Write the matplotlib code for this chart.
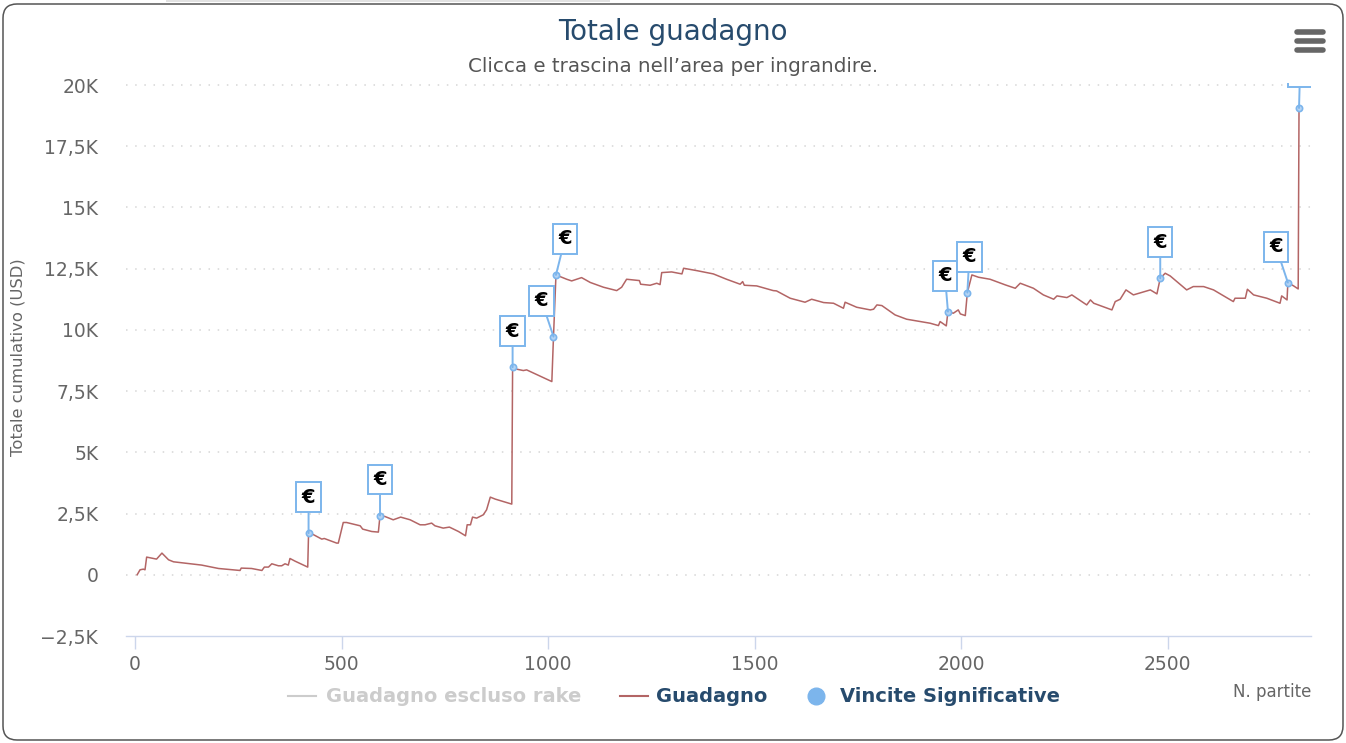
import matplotlib
matplotlib.use('Agg')
import matplotlib.pyplot as plt
from matplotlib.patches import FancyBboxPatch, Rectangle
from matplotlib.lines import Line2D
from matplotlib.transforms import IdentityTransform

# numero partita / guadagno cumulativo (USD)
partite = [5, 12, 20, 24, 28, 52, 65, 81, 93, 161, 202, 254, 257, 282, 307, 313, 323, 331,
           347, 355, 363, 371, 375, 387, 418, 420, 428, 452, 458, 488, 492, 504, 512, 545,
           551, 573, 589, 593, 605, 625, 643, 666, 690, 702, 718, 726, 746, 761, 783, 800,
           804, 812, 817, 827, 835, 843, 851, 860, 872, 912, 914, 924, 940, 948, 1009, 1013,
           1019, 1029, 1045, 1057, 1081, 1102, 1134, 1166, 1178, 1190, 1221, 1224, 1247,
           1263, 1271, 1275, 1299, 1324, 1328, 1360, 1400, 1432, 1465, 1471, 1475, 1505,
           1545, 1553, 1586, 1622, 1638, 1667, 1691, 1715, 1719, 1747, 1780, 1788, 1796,
           1808, 1840, 1868, 1901, 1925, 1945, 1949, 1964, 1968, 1981, 1993, 1998, 2010,
           2015, 2026, 2042, 2070, 2107, 2131, 2143, 2175, 2199, 2224, 2232, 2256, 2268,
           2304, 2313, 2321, 2365, 2373, 2385, 2399, 2417, 2458, 2474, 2482, 2494, 2506,
           2546, 2562, 2587, 2611, 2659, 2663, 2688, 2693, 2708, 2740, 2772, 2776, 2789,
           2791, 2805, 2816, 2818]
guadagno = [0, 204, 230, 204, 722, 640, 885, 612, 530, 396, 257, 176, 273, 257, 176, 314, 314, 449,
            367, 367, 449, 396, 665, 559, 314, 1702, 1673, 1456, 1482, 1294, 1294, 2135, 2135, 2000,
            1865, 1767, 1743, 2420, 2380, 2245, 2355, 2245, 2041, 2041, 2110, 2000, 1906, 1947, 1767, 1592,
            2041, 2041, 2355, 2314, 2380, 2449, 2653, 3171, 3090, 2886, 8476, 8396, 8340, 8367, 7890, 9727,
            12245, 12176, 12068, 12000, 12135, 11937, 11742, 11605, 11742, 12068, 12014, 11865, 11823,
            11905, 11850, 12340, 12367, 12286, 12517, 12420, 12286, 12068, 11865, 11972, 11823, 11796,
            11605, 11592, 11293, 11130, 11252, 11116, 11088, 10884, 11130, 10925, 10816, 10845, 11020,
            10993, 10612, 10436, 10340, 10272, 10176, 10340, 10163, 10748, 10680, 10816, 10653, 10584,
            11524, 12245, 12150, 12068, 11837, 11700, 11905, 11700, 11429, 11252, 11388, 11320, 11429,
            11020, 11224, 11088, 10816, 11156, 11252, 11633, 11429, 11633, 11470, 12109, 12313, 12204,
            11633, 11769, 11769, 11633, 11156, 11293, 11293, 11660, 11429, 11293, 11088, 11388, 11224,
            11932, 11796, 11673, 19061]

# vincite significative
vincite_x = [420, 593, 914, 1013, 1019, 1968, 2015, 2482, 2791, 2818]
vincite_y = [1702, 2420, 8476, 9727, 12245, 10748, 11524, 12109, 11932, 19061]
label_dx = [0, 0, 0, -12, 9, -3, 2, 0, -12, 1]

y_ticks = [-2500, 0, 2500, 5000, 7500, 10000, 12500, 15000, 17500, 20000]
y_labels = ['−2,5K', '0', '2,5K', '5K', '7,5K', '10K', '12,5K', '15K', '17,5K', '20K']
x_ticks = [0, 500, 1000, 1500, 2000, 2500]

W, H = 1346, 743
fig = plt.figure(figsize=(W / 100, H / 100), dpi=100)
fig.patch.set_facecolor('white')

def px(x, y):
    return x / W, 1 - y / H

# cornice arrotondata
frame = FancyBboxPatch((3, 3), 1340, 736, boxstyle='round,pad=0,rounding_size=14',
                       transform=IdentityTransform(), fc='white', ec='#555555', lw=1.1, zorder=-2)
fig.add_artist(frame)
fig.add_artist(Rectangle((166, 741), 444, 2, transform=IdentityTransform(),
                         fc='#e2e2e2', ec='none', zorder=-1))

ax = fig.add_axes([126 / W, 1 - 636 / H, (1311 - 126) / W, (636 - 83) / H])
ax.patch.set_alpha(0)
ax.set_xlim(-22, 2847)
ax.set_ylim(-2500, 20082)

for t in y_ticks[1:]:
    ax.axhline(t, color='#d6d6d6', lw=1.1, ls=(0, (1, 5)), zorder=1)

ax.plot(partite, guadagno, color='#b36565', lw=1.1, zorder=3)
ax.plot(vincite_x, vincite_y, 'o', ms=4.5, mfc='#b5d4f4', mec='#7cb5ec', mew=1.2, zorder=4)

for x, y, dx in zip(vincite_x, vincite_y, label_dx):
    ax.annotate('€', xy=(x, y), xytext=(dx, 36), textcoords='offset pixels',
                ha='center', va='center', fontsize=14, fontweight='bold', color='black',
                bbox=dict(boxstyle='square,pad=0.28', fc='white', ec='#7cb5ec', lw=1.4),
                arrowprops=dict(arrowstyle='-', color='#7cb5ec', lw=1.4, shrinkA=0, shrinkB=0),
                clip_on=True, zorder=5)

for s in ['top', 'right', 'left']:
    ax.spines[s].set_visible(False)
ax.spines['bottom'].set_color('#ccd6eb')
ax.spines['bottom'].set_linewidth(1)

ax.set_yticks(y_ticks)
ax.set_yticklabels(y_labels)
ax.set_xticks(x_ticks)
ax.tick_params(axis='y', length=0, pad=20, labelsize=13.5, labelcolor='#666666')
ax.tick_params(axis='x', length=9.4, width=1, color='#ccd6eb', pad=4,
               labelsize=13.5, labelcolor='#666666')

# titoli
fig.text(*px(673, 32), 'Totale guadagno', ha='center', va='center', fontsize=20, color='#274b6d')
fig.text(*px(673, 66), 'Clicca e trascina nell’area per ingrandire.', ha='center', va='center',
         fontsize=14.3, color='#555555')
fig.text(*px(18, 357), 'Totale cumulativo (USD)', rotation=90, ha='center', va='center',
         fontsize=11.8, color='#666666')
fig.text(*px(1311, 692), 'N. partite', ha='right', va='center', fontsize=12, color='#666666')

# legenda
ly = 696
fig.add_artist(Line2D([288 / W, 316 / W], [1 - ly / H] * 2, color='#cccccc', lw=1.5))
fig.text(*px(326, ly), 'Guadagno escluso rake', ha='left', va='center', fontsize=14,
         fontweight='bold', color='#cccccc')
fig.add_artist(Line2D([620 / W, 648 / W], [1 - ly / H] * 2, color='#b36565', lw=1.5))
fig.text(*px(656, ly), 'Guadagno', ha='left', va='center', fontsize=14,
         fontweight='bold', color='#274b6d')
fig.add_artist(Line2D([816 / W], [1 - ly / H], marker='o', ms=12, mfc='#7cb5ec', mec='#7cb5ec'))
fig.text(*px(840, ly), 'Vincite Significative', ha='left', va='center', fontsize=14,
         fontweight='bold', color='#274b6d')

# menu
for yy in [32, 41, 50]:
    fig.add_artist(Line2D([1297 / W, 1323 / W], [1 - yy / H] * 2, color='#666666',
                          lw=4, solid_capstyle='round'))

fig.savefig('out.png', dpi=100)
